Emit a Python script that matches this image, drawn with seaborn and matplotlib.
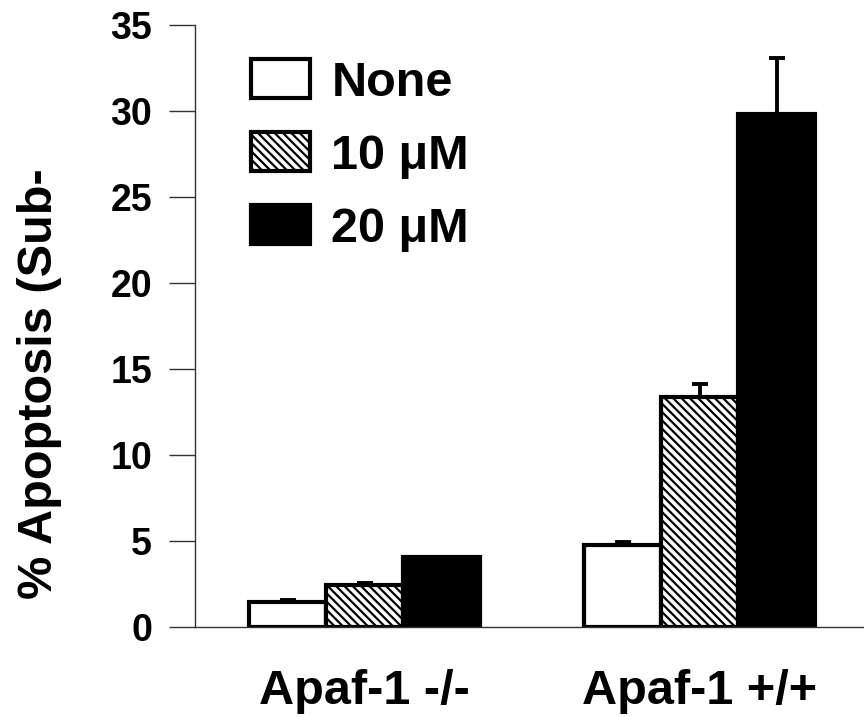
import matplotlib
matplotlib.use("Agg")
import matplotlib.pyplot as plt
import seaborn as sns
import pandas as pd
import numpy as np

groups = ["Apaf-1 -/-", "Apaf-1 +/+"]
treatments = ["None", "10 μM", "20 μM"]
none_vals = [1.45, 4.75]
ten_vals = [2.45, 13.35]
twenty_vals = [4.05, 29.85]
none_err = [0.12, 0.2]
ten_err = [0.12, 0.8]
twenty_err = [0.0, 3.25]
yticks = [0, 5, 10, 15, 20, 25, 30, 35]

sns.set_style("white")
plt.rcParams['font.family'] = ['Liberation Sans', 'DejaVu Sans']
plt.rcParams['font.weight'] = 'bold'
plt.rcParams['text.color'] = 'black'
plt.rcParams['axes.labelcolor'] = 'black'
plt.rcParams['xtick.labelcolor'] = 'black'
plt.rcParams['ytick.labelcolor'] = 'black'
plt.rcParams['hatch.linewidth'] = 1.6
plt.rcParams['hatch.color'] = 'black'

HATCH = "\\\\\\\\"

rows = []
for t, vals in zip(treatments, [none_vals, ten_vals, twenty_vals]):
    for g, v in zip(groups, vals):
        rows.append({"group": g, "treatment": t, "value": v})
df = pd.DataFrame(rows)

fig = plt.figure(figsize=(8.64, 7.17), dpi=100)
ax = fig.add_axes([195/864, 1-627/717, 1-195/864, (627-25)/717])

sns.barplot(data=df, x="group", y="value", hue="treatment", order=groups,
            hue_order=treatments, palette=["white", "white", "black"],
            width=0.69, errorbar=None, edgecolor="black", linewidth=3.0,
            ax=ax, legend=True)

errs = {"None": none_err, "10 μM": ten_err, "20 μM": twenty_err}
for cont, t in zip(ax.containers, treatments):
    for i, bar in enumerate(cont):
        if t == "10 μM":
            bar.set_hatch(HATCH)
        cx = bar.get_x() + bar.get_width() / 2
        h = bar.get_height()
        e = errs[t][i]
        if e > 0:
            ax.errorbar([cx], [h], yerr=[[0], [e]], fmt="none", ecolor="black",
                        elinewidth=2.8, capsize=6, capthick=2.8, zorder=1)

ax.set_ylim(0, 35)
ax.set_xlim(-0.507, 1.49)
ax.set_yticks(yticks)
ax.set_yticklabels([str(v) for v in yticks], fontsize=27, fontweight='bold', color='black')
ax.tick_params(axis='y', length=19, width=1, color='#333333', pad=12, direction='out', left=True)
ax.tick_params(axis='x', length=0, pad=30, labelsize=35)
for lab in ax.get_xticklabels():
    lab.set_fontweight('bold')
    lab.set_color('black')
ax.set_xlabel("")
ax.set_ylabel("% Apoptosis (Sub-", fontsize=35, fontweight='bold', color='black')
ax.yaxis.set_label_coords(-(195-62)/669, 0.405)

for s in ["top", "right"]:
    ax.spines[s].set_visible(False)
for s in ["left", "bottom"]:
    ax.spines[s].set_color('#333333')
    ax.spines[s].set_linewidth(1)

leg = ax.legend(loc="upper left", bbox_to_anchor=(0.055, 0.975), frameon=False,
                fontsize=35, handlelength=1.2, handleheight=0.85, labelspacing=0.55,
                handletextpad=0.45, borderaxespad=0)
for txt in leg.get_texts():
    txt.set_fontweight('bold')
    txt.set_color('black')
for hnd, t in zip(leg.legend_handles, treatments):
    hnd.set_linewidth(3.0)
    hnd.set_edgecolor('black')
    if t == "10 μM":
        hnd.set_hatch(HATCH)

fig.savefig("out.png", dpi=100)
